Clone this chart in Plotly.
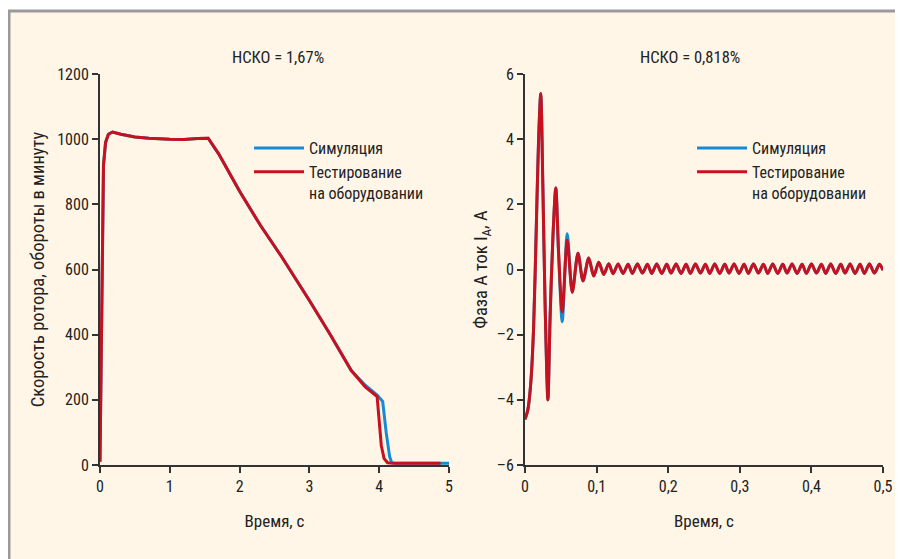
import plotly.graph_objects as go

# ---------------- data ----------------
# Left panel: rotor speed, rpm
t_speed_sim = [0.0, 0.01, 0.03, 0.05, 0.08, 0.12, 0.18, 0.3, 0.5, 0.7, 1.0, 1.2, 1.4, 1.55,
               1.7, 2.0, 2.3, 2.6, 3.0, 3.3, 3.6, 3.8, 3.97, 4.05, 4.1, 4.15, 4.18, 4.25, 4.6, 5.0]
speed_sim = [10, 200, 600, 920, 990, 1015, 1022, 1015, 1007, 1003, 1000, 999, 1002, 1003,
             955, 840, 735, 640, 505, 400, 290, 245, 215, 195, 100, 25, 7, 5, 5, 5]

t_speed_test = [0.0, 0.01, 0.03, 0.05, 0.08, 0.12, 0.18, 0.3, 0.5, 0.7, 1.0, 1.2, 1.4, 1.55,
                1.7, 2.0, 2.3, 2.6, 3.0, 3.3, 3.6, 3.8, 3.97, 4.0, 4.03, 4.07, 4.12, 4.2, 4.5, 4.88]
speed_test = [10, 200, 600, 920, 990, 1015, 1022, 1015, 1007, 1003, 1000, 999, 1002, 1003,
              955, 840, 735, 640, 505, 400, 290, 240, 210, 130, 60, 20, 7, 5, 5, 5]

speed_ticks = [0, 200, 400, 600, 800, 1000, 1200]
time1_ticks = [0, 1, 2, 3, 4, 5]

# Right panel: phase A current, A
t_cur_start = [0.000, 0.004, 0.008, 0.012, 0.016, 0.019, 0.022, 0.025, 0.028, 0.032, 0.035,
               0.039, 0.043, 0.047, 0.052, 0.059, 0.066, 0.074, 0.081, 0.089, 0.096]
i_sim_start = [-4.6, -4.3, -3.5, -1.8, 1.5, 4.0, 5.4, 2.5, -1.0, -4.0, -1.5,
               1.0, 2.5, 0.4, -1.6, 1.1, -0.7, 0.5, -0.35, 0.35, -0.2]
i_test_start = [-4.6, -4.3, -3.5, -1.8, 1.5, 4.0, 5.4, 2.5, -1.0, -4.0, -1.5,
                1.0, 2.5, 0.5, -1.3, 0.9, -0.7, 0.5, -0.35, 0.35, -0.2]

t_cur_tail = [0.103, 0.110, 0.117, 0.123, 0.130, 0.137, 0.144, 0.150, 0.157, 0.164,
              0.171, 0.177, 0.184, 0.191, 0.198, 0.204, 0.211, 0.218, 0.225, 0.231,
              0.238, 0.245, 0.252, 0.258, 0.265, 0.272, 0.279, 0.285, 0.292, 0.299,
              0.306, 0.312, 0.319, 0.326, 0.333, 0.339, 0.346, 0.353, 0.360, 0.366,
              0.373, 0.380, 0.387, 0.393, 0.400, 0.407, 0.414, 0.420, 0.427, 0.434,
              0.441, 0.447, 0.454, 0.461, 0.468, 0.474, 0.481, 0.488, 0.495, 0.500]
i_tail = [0.22, -0.15, 0.18, -0.13, 0.17, -0.12, 0.16, -0.12, 0.17, -0.11,
          0.16, -0.12, 0.17, -0.12, 0.16, -0.11, 0.17, -0.12, 0.16, -0.12,
          0.17, -0.11, 0.16, -0.12, 0.17, -0.12, 0.16, -0.11, 0.17, -0.12,
          0.16, -0.12, 0.17, -0.11, 0.16, -0.12, 0.17, -0.12, 0.16, -0.11,
          0.17, -0.12, 0.16, -0.12, 0.17, -0.11, 0.16, -0.12, 0.17, -0.12,
          0.16, -0.11, 0.17, -0.12, 0.16, -0.12, 0.17, -0.11, 0.16, -0.02]

t_cur = t_cur_start + t_cur_tail
i_sim = i_sim_start + i_tail
i_test = i_test_start + i_tail

cur_ticks = [-6, -4, -2, 0, 2, 4, 6]
cur_tick_text = ["\u20136", "\u20134", "\u20132", "0", "2", "4", "6"]
time2_ticks = [0, 0.1, 0.2, 0.3, 0.4, 0.5]
time2_tick_text = ["0", "0,1", "0,2", "0,3", "0,4", "0,5"]

series_names = ["Симуляция", "Тестирование<br>на оборудовании"]
titles = ["НСКО = 1,67%", "НСКО = 0,818%"]

# ---------------- style ----------------
BLUE = "#168bd3"
RED = "#c8101e"
AX = "#333333"
TXT = "#222222"
CREAM = "#fff6e8"
FONT = "Liberation Sans Narrow, Roboto Condensed, DejaVu Sans Condensed, Arial Narrow, sans-serif"
PAGE_MARGIN = 8          # browser body margin around the figure
W, H = 903 - PAGE_MARGIN, 559 - PAGE_MARGIN


def px_x(p):
    return (p - PAGE_MARGIN) / W


def px_y(p):
    return 1 - (p - PAGE_MARGIN) / H


fig = go.Figure()

fig.add_trace(go.Scatter(x=t_speed_sim, y=speed_sim, mode="lines", name=series_names[0],
                         line=dict(color=BLUE, width=3), xaxis="x", yaxis="y", legend="legend"))
fig.add_trace(go.Scatter(x=t_speed_test, y=speed_test, mode="lines", name=series_names[1],
                         line=dict(color=RED, width=3), xaxis="x", yaxis="y", legend="legend"))
fig.add_trace(go.Scatter(x=t_cur, y=i_sim, mode="lines", name=series_names[0],
                         line=dict(color=BLUE, width=3, shape="spline", smoothing=0.8),
                         xaxis="x2", yaxis="y2", legend="legend2"))
fig.add_trace(go.Scatter(x=t_cur, y=i_test, mode="lines", name=series_names[1],
                         line=dict(color=RED, width=3, shape="spline", smoothing=0.8),
                         xaxis="x2", yaxis="y2", legend="legend2"))

axis_common = dict(showline=True, linecolor=AX, linewidth=2, ticks="outside", ticklen=6,
                   tickwidth=2, tickcolor=AX, showgrid=False, zeroline=False,
                   tickfont=dict(family=FONT, size=16, color=TXT), automargin=False)
xtitle_font = dict(family=FONT, size=17, color=TXT)
ytitle_font = dict(family=FONT, size=18.5, color=TXT)

y_dom = [px_y(465), px_y(74)]

fig.update_layout(
    width=W, height=H,
    margin=dict(l=0, r=0, t=0, b=0),
    paper_bgcolor="white", plot_bgcolor="rgba(0,0,0,0)",
    font=dict(family=FONT, size=16, color=TXT),
    xaxis=dict(domain=[px_x(100), px_x(449)], range=[0, 5], tickvals=time1_ticks,
               anchor="y", title=dict(text="Время, с", standoff=20, font=xtitle_font),
               **axis_common),
    yaxis=dict(domain=y_dom, range=[0, 1200], tickvals=speed_ticks, anchor="x",
               title=dict(text="Скорость ротора, обороты в минуту", standoff=8,
                          font=ytitle_font), **axis_common),
    xaxis2=dict(domain=[px_x(525), px_x(883)], range=[0, 0.5], tickvals=time2_ticks,
                ticktext=time2_tick_text, anchor="y2",
                title=dict(text="Время, с", standoff=20, font=xtitle_font), **axis_common),
    yaxis2=dict(domain=y_dom, range=[-6, 6], tickvals=cur_ticks, ticktext=cur_tick_text,
                anchor="x2", title=dict(text="Фаза А ток I<sub>A</sub>, А", standoff=4,
                                        font=ytitle_font), **axis_common),
    legend=dict(x=px_x(249), y=px_y(131), xanchor="left", yanchor="top",
                bgcolor="rgba(0,0,0,0)", font=dict(family=FONT, size=16, color=TXT),
                itemwidth=50, valign="top", tracegroupgap=0),
    legend2=dict(x=px_x(692), y=px_y(131), xanchor="left", yanchor="top",
                 bgcolor="rgba(0,0,0,0)", font=dict(family=FONT, size=16, color=TXT),
                 itemwidth=50, valign="top", tracegroupgap=0),
    showlegend=True,
    shapes=[dict(type="rect", xref="paper", yref="paper", layer="below",
                 x0=px_x(9), x1=1.02, y0=-0.02, y1=px_y(11),
                 fillcolor=CREAM, line=dict(color="#9a9a9a", width=3))],
    annotations=[
        dict(text=titles[0], x=px_x(278), y=px_y(57), xref="paper", yref="paper",
             xanchor="center", yanchor="middle",
             showarrow=False, font=dict(family=FONT, size=16.5, color=TXT)),
        dict(text=titles[1], x=px_x(690), y=px_y(57), xref="paper", yref="paper",
             xanchor="center", yanchor="middle",
             showarrow=False, font=dict(family=FONT, size=16.5, color=TXT)),
    ],
)

fig.write_html("out.html")
